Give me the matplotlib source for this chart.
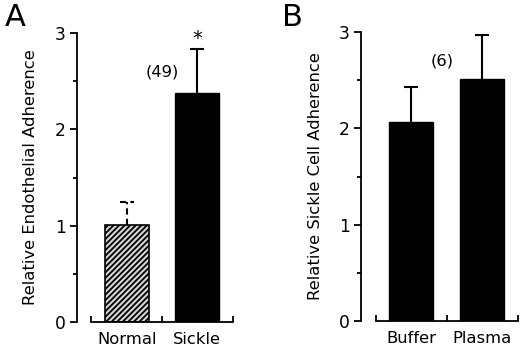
import numpy as np
import matplotlib
matplotlib.use("Agg")
import matplotlib.pyplot as plt

# panel A
cats_a = ["Normal", "Sickle"]
vals_a = [1.01, 2.38]
errs_a = [0.24, 0.45]
ylabel_a = "Relative Endothelial Adherence"
n_a = "(49)"

# panel B
cats_b = ["Buffer", "Plasma"]
vals_b = [2.07, 2.51]
errs_b = [0.36, 0.46]
ylabel_b = "Relative Sickle Cell Adherence"
n_b = "(6)"

plt.rcParams['font.family'] = 'DejaVu Sans'
plt.rcParams['hatch.linewidth'] = 1.3
plt.rcParams['hatch.color'] = 'black'

W, H = 520, 352
fig = plt.figure(figsize=(W / 100, H / 100), dpi=100)
FS = 11.8


def style_axes(ax, cats, ylabel, label_x):
    ax.set_ylim(0, 3)
    ax.set_xlim(-0.705, 1.505)
    for s in ['top', 'right']:
        ax.spines[s].set_visible(False)
    ax.spines['left'].set_linewidth(1.3)
    ax.spines['bottom'].set_linewidth(1.3)
    ax.spines['bottom'].set_bounds(-0.5, 1.5)
    ax.set_yticks([0, 1, 2, 3])
    ax.set_yticks([0.5, 1.5, 2.5], minor=True)
    ax.tick_params(axis='y', which='major', direction='out', length=5, width=1.3,
                   labelsize=FS + 0.5, pad=3)
    ax.tick_params(axis='y', which='minor', direction='out', length=3, width=1.3)
    ax.set_xticks([-0.5, 0.5, 1.5])
    ax.set_xticklabels(['', '', ''])
    ax.set_xticks([0, 1], minor=True)
    ax.set_xticklabels(cats, minor=True)
    ax.tick_params(axis='x', which='major', direction='in', length=4, width=1.3)
    ax.tick_params(axis='x', which='minor', length=0, labelsize=FS, pad=7)
    ax.set_ylabel(ylabel, fontsize=FS)
    ax.yaxis.set_label_coords(label_x, 0.5)


def draw_err(ax, x, v, e, ls='-'):
    ax.vlines(x, v, v + e, colors='black', linewidth=1.5, linestyles=ls, zorder=1)
    ax.hlines(v + e, x - 0.1, x + 0.1, colors='black', linewidth=1.5, linestyles=ls,
              zorder=1)


# --- A ---
axA = fig.add_axes([77 / W, 30 / H, (233 - 77) / W, 289 / H])
xa = np.arange(len(cats_a))
axA.bar(xa[0], vals_a[0], 0.62, color='#d4d4d4', edgecolor='black', hatch='//////',
        linewidth=1.2, zorder=2)
axA.bar(xa[1], vals_a[1], 0.62, color='black', edgecolor='black', zorder=2)
draw_err(axA, xa[0], vals_a[0], errs_a[0], ls=(0, (3, 2)))
draw_err(axA, xa[1], vals_a[1], errs_a[1])
axA.text(xa[1], 2.94, '*', ha='center', va='center', fontsize=14)
axA.text(0.5, 2.6, n_a, ha='center', va='center', fontsize=FS)
style_axes(axA, cats_a, ylabel_a, -0.25)

# --- B ---
axB = fig.add_axes([361 / W, 31 / H, (518 - 361) / W, 289 / H])
xb = np.arange(len(cats_b))
axB.bar(xb, vals_b, 0.62, color='black', edgecolor='black', zorder=2)
for x, v, e in zip(xb, vals_b, errs_b):
    draw_err(axB, x, v, e)
axB.text(0.44, 2.7, n_b, ha='center', va='center', fontsize=FS)
style_axes(axB, cats_b, ylabel_b, -0.242)

fig.text(15 / W, 1 - 18 / H, 'A', ha='center', va='center', fontsize=22)
fig.text(292 / W, 1 - 17 / H, 'B', ha='center', va='center', fontsize=22)

fig.savefig('out.png', dpi=100)
